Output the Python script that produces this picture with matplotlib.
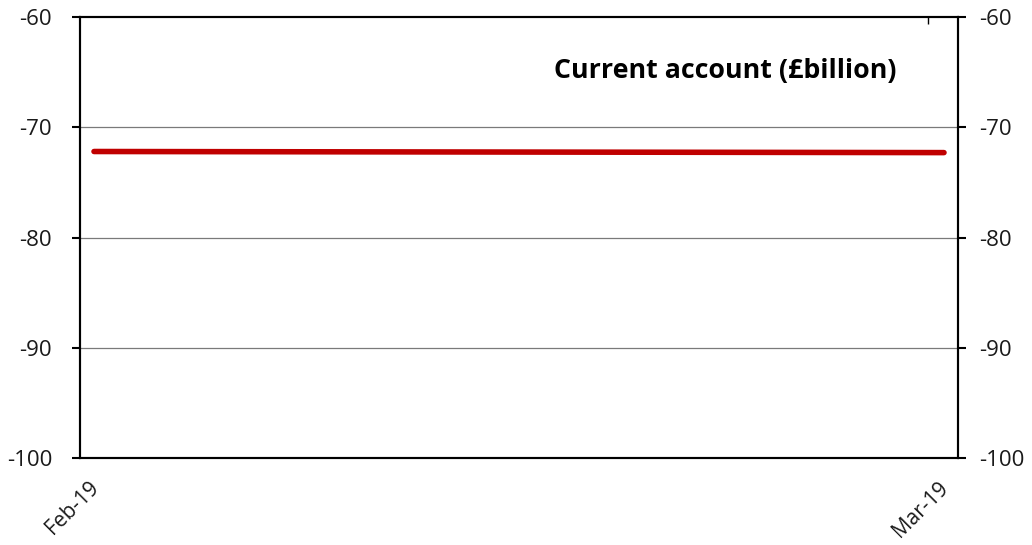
import matplotlib
matplotlib.use("Agg")
import matplotlib.pyplot as plt
from matplotlib.transforms import ScaledTranslation

categories = ["Feb-19", "Mar-19"]
values = [-72.2, -72.3]
yticks = [-100, -90, -80, -70, -60]
title = "Current account (£billion)"

plt.rcParams['font.family'] = ['Open Sans', 'DejaVu Sans']
plt.rcParams['text.color'] = '#1a1a1a'

fig = plt.figure(figsize=(10.32, 5.45), dpi=100)
ax = fig.add_axes([80/1032, 1-458/545, 878/1032, 441/545])
x = list(range(len(categories)))
ax.plot(x, values, color="#C00000", lw=4.0, solid_capstyle="round", zorder=3)
ax.set_ylim(-100, -60)
ax.set_xlim(-14/850, 1+14/850)
ax.set_yticks(yticks)
ax.set_yticklabels([str(v) for v in yticks], fontsize=16, color="#1a1a1a")
for v in yticks[1:-1]:
    ax.axhline(v, color="#7a7a7a", lw=0.9, zorder=1)
ax.set_xticks(x)
ax.set_xticklabels(categories, rotation=45, ha="right", va="top", rotation_mode="anchor",
                   fontsize=15, color="#1a1a1a")
ax.tick_params(axis="x", length=0, pad=14)
offset = ScaledTranslation(-6/100, 0, fig.dpi_scale_trans)
for lbl in ax.get_xticklabels():
    lbl.set_transform(lbl.get_transform() + offset)
ax.tick_params(axis="y", length=6, width=1.5, direction="out", pad=14)
for s in ax.spines.values():
    s.set_linewidth(1.5)
    s.set_color("black")

ax2 = ax.twinx()
ax2.set_ylim(-100, -60)
ax2.set_yticks(yticks)
ax2.set_yticklabels([str(v) for v in yticks], fontsize=16, color="#1a1a1a")
ax2.tick_params(axis="y", length=6, width=1.5, direction="out", pad=9)
for s in ax2.spines.values():
    s.set_linewidth(1.5)
ax3 = ax.secondary_xaxis("top")
ax3.set_xticks([0.981])
ax3.set_xticklabels([""])
ax3.tick_params(direction="in", length=5, width=1)
ax3.spines["top"].set_visible(False)

ax.text(0.9305, 0.8776, title, transform=ax.transAxes, ha="right", va="center",
        fontsize=19.3, fontweight="bold", color="black")

fig.savefig("out.png", dpi=100)
